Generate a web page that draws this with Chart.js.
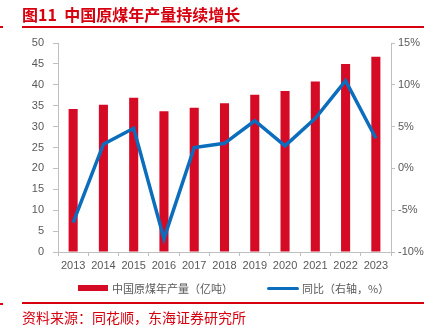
<!DOCTYPE html>
<html><head><meta charset="utf-8">
<script src="https://cdn.jsdelivr.net/npm/chart.js@4/dist/chart.umd.min.js"></script>
<style>
html,body{margin:0;padding:0;background:#fff;}
#wrap{position:relative;width:431px;height:333px;overflow:hidden;font-family:"Noto Sans CJK SC","Noto Sans",sans-serif;}
canvas{position:absolute;left:0;top:0;}
.abs{position:absolute;white-space:nowrap;}
#title{left:22px;top:4px;font-size:16px;font-weight:bold;color:#D7000F;line-height:20px;}
.rule{height:2px;background:#D7000F;}
#src{left:22px;top:308px;font-size:14px;color:#D7000F;line-height:18px;}
.leg{font-size:11px;color:#595959;line-height:14px;top:281px;}
</style></head>
<body><div id="wrap">
<canvas id="c" width="431" height="333"></canvas>
<div id="title" class="abs">图11&nbsp;&nbsp;中国原煤年产量持续增长</div>
<div class="abs rule" style="left:22px;top:26px;width:402px;"></div>
<div class="abs rule" style="left:0;top:26px;width:3px;"></div>
<div class="abs rule" style="left:22px;top:302px;width:402px;"></div>
<div class="abs rule" style="left:0;top:303px;width:3px;"></div>
<div id="src" class="abs">资料来源：同花顺，东海证券研究所</div>
<div class="abs" style="left:78px;top:285px;width:30px;height:6px;background:#D50A25;"></div>
<div class="abs leg" style="left:112px;">中国原煤年产量（亿吨）</div>
<div class="abs" style="left:267px;top:287px;width:32px;height:3px;background:#0A6EBD;border-radius:2px;"></div>
<div class="abs leg" style="left:302px;">同比（右轴，%）</div>
</div>
<script>
const categories = ['2013','2014','2015','2016','2017','2018','2019','2020','2021','2022','2023'];
const production = [34.2, 35.2, 36.9, 33.7, 34.5, 35.6, 37.6, 38.5, 40.8, 45.0, 46.7];
const yoy = [-6.5, 2.9, 4.8, -8.4, 2.5, 3.0, 5.7, 2.7, 6.0, 10.5, 3.6];
const leftTicks = [0, 5, 10, 15, 20, 25, 30, 35, 40, 45, 50];
const rightTicks = [-10, -5, 0, 5, 10, 15];

const axisColor = '#BFBFBF';
const tickFont = {family: '"Liberation Sans", Arial, sans-serif', size: 11};
const tickColor = '#595959';

new Chart(document.getElementById('c'), {
  data: {
    labels: categories,
    datasets: [
      {type: 'line', label: '同比（右轴，%）', data: yoy, yAxisID: 'y1', borderColor: '#0A6EBD', backgroundColor: '#0A6EBD', borderWidth: 3.5, pointRadius: 0, tension: 0, order: 0, borderJoinStyle: 'miter'},
      {type: 'bar', label: '中国原煤年产量（亿吨）', data: production, yAxisID: 'y', backgroundColor: '#D50A25', categoryPercentage: 1, barPercentage: 0.3, order: 1}
    ]
  },
  options: {
    responsive: false,
    animation: false,
    layout: {padding: {top: 43, left: 0, right: 0, bottom: 0}},
    plugins: {legend: {display: false}, title: {display: false}, tooltip: {enabled: false}},
    scales: {
      x: {
        offset: true,
        grid: {display: true, drawOnChartArea: false, offset: true, tickLength: 4, color: axisColor},
        border: {display: true, color: axisColor, width: 1},
        ticks: {font: tickFont, color: tickColor, padding: 3, maxRotation: 0, autoSkip: false},
        afterFit: s => { s.height = 81; }
      },
      y: {
        position: 'left', min: 0, max: 50,
        afterBuildTicks: s => { s.ticks = leftTicks.map(v => ({value: v})); },
        grid: {display: true, drawOnChartArea: false, tickLength: 5, color: axisColor},
        border: {display: true, color: axisColor, width: 1},
        ticks: {font: tickFont, color: tickColor, padding: 9},
        afterFit: s => { s.width = 58; }
      },
      y1: {
        position: 'right', min: -10, max: 15,
        afterBuildTicks: s => { s.ticks = rightTicks.map(v => ({value: v})); },
        grid: {display: true, drawOnChartArea: false, tickLength: 4, color: axisColor},
        border: {display: true, color: axisColor, width: 1},
        ticks: {font: tickFont, color: tickColor, padding: 3, callback: v => v + '%'},
        afterFit: s => { s.width = 40; }
      }
    }
  }
});
</script>
</body></html>
